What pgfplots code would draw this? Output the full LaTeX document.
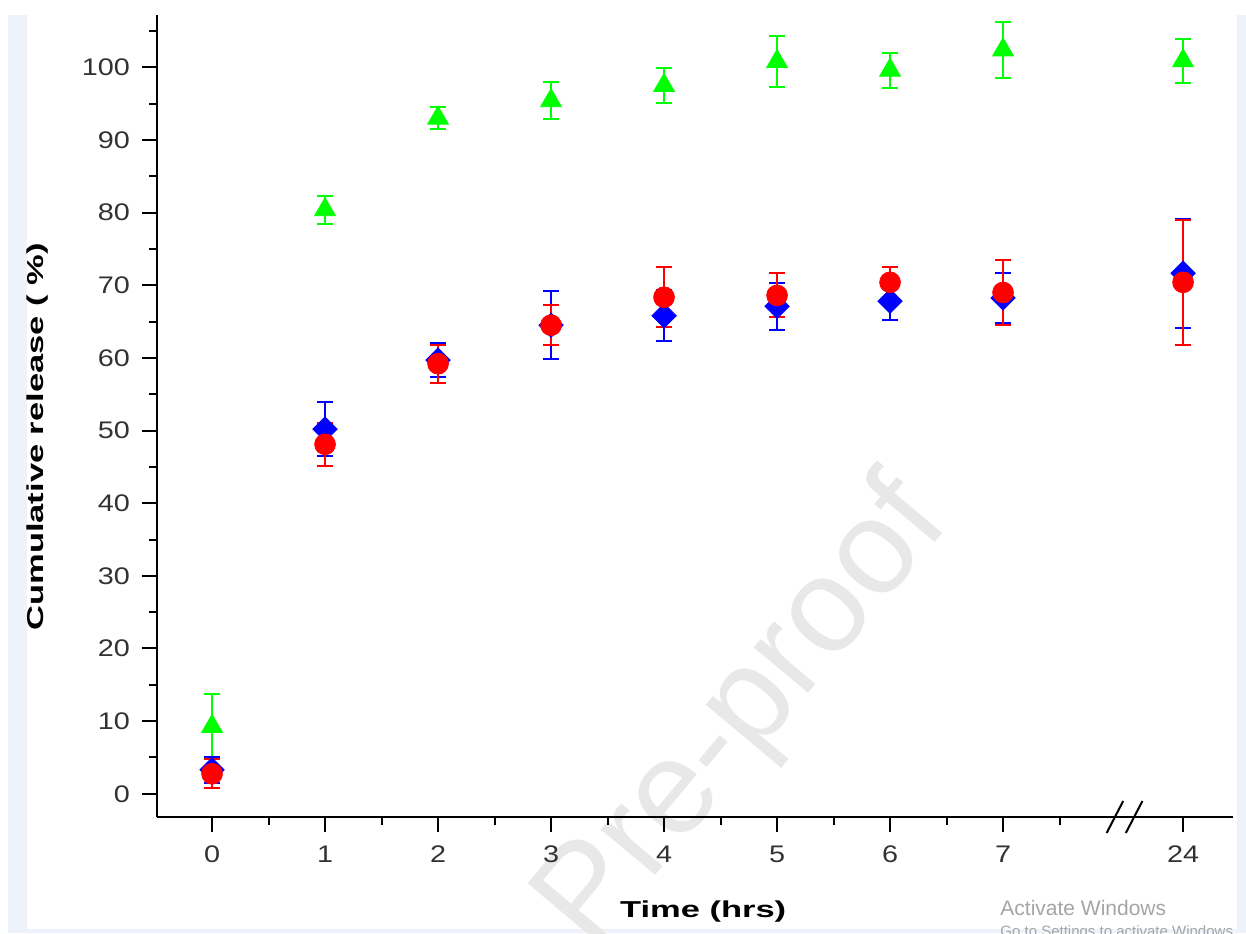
\documentclass[border=0pt]{standalone}
\usepackage{pgfplots}
\pgfplotsset{compat=1.18}
\usepackage{pgfplotstable}
\usepackage{fontspec}
\setmainfont{Liberation Sans}
\definecolor{tickgray}{RGB}{50,50,50}
\definecolor{stripc}{RGB}{238,242,250}
\definecolor{wm}{RGB}{232,232,232}
\definecolor{winc}{RGB}{165,165,165}
\definecolor{ggreen}{RGB}{0,255,0}
\definecolor{bblue}{RGB}{0,0,255}
\definecolor{rred}{RGB}{255,0,0}
\newcommand{\tl}[1]{\scalebox{1.2}[1]{#1}}

\pgfplotstableread{
x y e
0 9.27 4.45
1 80.4 1.95
2 93.0 1.5
3 95.4 2.55
4 97.5 2.4
5 100.8 3.5
6 99.6 2.4
7 102.4 3.9
8.593 100.9 3.0
}\greendata
\pgfplotstableread{
x y e
0 3.3 1.8
1 50.2 3.76
2 59.7 2.38
3 64.5 4.72
4 65.8 3.53
5 67.1 3.26
6 67.8 2.57
7 68.25 3.4
8.593 71.65 7.5
}\bluedata
\pgfplotstableread{
x y e
0 2.75 2.0
1 48.1 3.0
2 59.2 2.6
3 64.5 2.73
4 68.35 4.13
5 68.6 3.03
6 70.4 2.09
7 69.0 4.47
8.593 70.4 8.57
}\reddata

\begin{document}
\begin{tikzpicture}
\path[use as bounding box] (0,0) rectangle (623pt,466.5pt);
\fill[stripc] (4pt,0) rectangle (13.5pt,459pt);
\fill[stripc] (618.5pt,0) rectangle (623pt,459pt);
\fill[stripc] (4pt,0) rectangle (623pt,2pt);
\node[rotate=50, text=wm, font=\fontsize{67}{70}\selectfont] at (372.5pt,109pt) {Pre-proof};
\begin{axis}[
  at={(78.5pt,58pt)}, anchor=south west,
  scale only axis, width=538pt, height=401pt,
  xmin=-0.487, xmax=9.035, ymin=-3.2, ymax=107.2,
  axis x line*=bottom, axis y line*=left,
  axis line style={line width=1pt, -},
  tick align=outside,
  major tick length=7.5pt, minor tick length=4pt,
  every tick/.style={black, line width=1pt},
  xtick={0,1,2,3,4,5,6,7,8.593},
  xticklabels={\tl{0},\tl{1},\tl{2},\tl{3},\tl{4},\tl{5},\tl{6},\tl{7},\tl{24}},
  minor xtick={0.5,1.5,2.5,3.5,4.5,5.5,6.5,7.5},
  ytick={0,10,20,30,40,50,60,70,80,90,100},
  yticklabels={\tl{0},\tl{10},\tl{20},\tl{30},\tl{40},\tl{50},\tl{60},\tl{70},\tl{80},\tl{90},\tl{100}},
  minor ytick={5,15,25,35,45,55,65,75,85,95,105},
  ticklabel style={font=\fontsize{12}{14}\selectfont, text=tickgray},
  xticklabel style={yshift=-3.5pt},
  yticklabel style={xshift=-2.5pt},
  every axis x label/.style={at={(axis description cs:0.5076,-0.1185)}, anchor=center},
  every axis y label/.style={at={(axis description cs:-0.1106,0.474)}, anchor=center, rotate=90},
  xlabel={\scalebox{1.5}[1]{\fontsize{11.5}{13}\selectfont\bfseries Time (hrs)}},
  ylabel={\scalebox{1.5}[1]{\fontsize{11.5}{13}\selectfont\bfseries Cumulative release ( \%)}},
  clip=false,
  error bars/y dir=both, error bars/y explicit,
  error bars/error bar style={line width=1pt},
  error bars/error mark options={rotate=90, line width=1pt, mark size=4pt},
]
\addplot[only marks, color=ggreen, mark=triangle*, mark size=6pt, mark options={fill=ggreen, draw=ggreen}]
  table[x=x, y=y, y error=e]{\greendata};
\addplot[only marks, color=bblue, mark=square*, mark size=4.3pt, mark options={rotate=45, fill=bblue, draw=bblue}]
  table[x=x, y=y, y error=e]{\bluedata};
\addplot[only marks, color=rred, mark=*, mark size=5.2pt, mark options={fill=rred, draw=rred}]
  table[x=x, y=y, y error=e]{\reddata};
\draw[line width=1pt] (axis cs:7.99,-3.2) ++(-4.15pt,-8pt) -- ++(8.3pt,16pt);
\draw[line width=1pt] (axis cs:8.16,-3.2) ++(-4.15pt,-8pt) -- ++(8.3pt,16pt);
\end{axis}
\node[anchor=base west, text=winc, font=\fontsize{10.5}{12}\selectfont, inner sep=0pt] at (500pt,9pt) {Activate Windows};
\node[anchor=base west, text=winc, font=\fontsize{7.5}{9}\selectfont, inner sep=0pt] at (500pt,-1.5pt) {Go to Settings to activate Windows.};
\end{tikzpicture}
\end{document}
